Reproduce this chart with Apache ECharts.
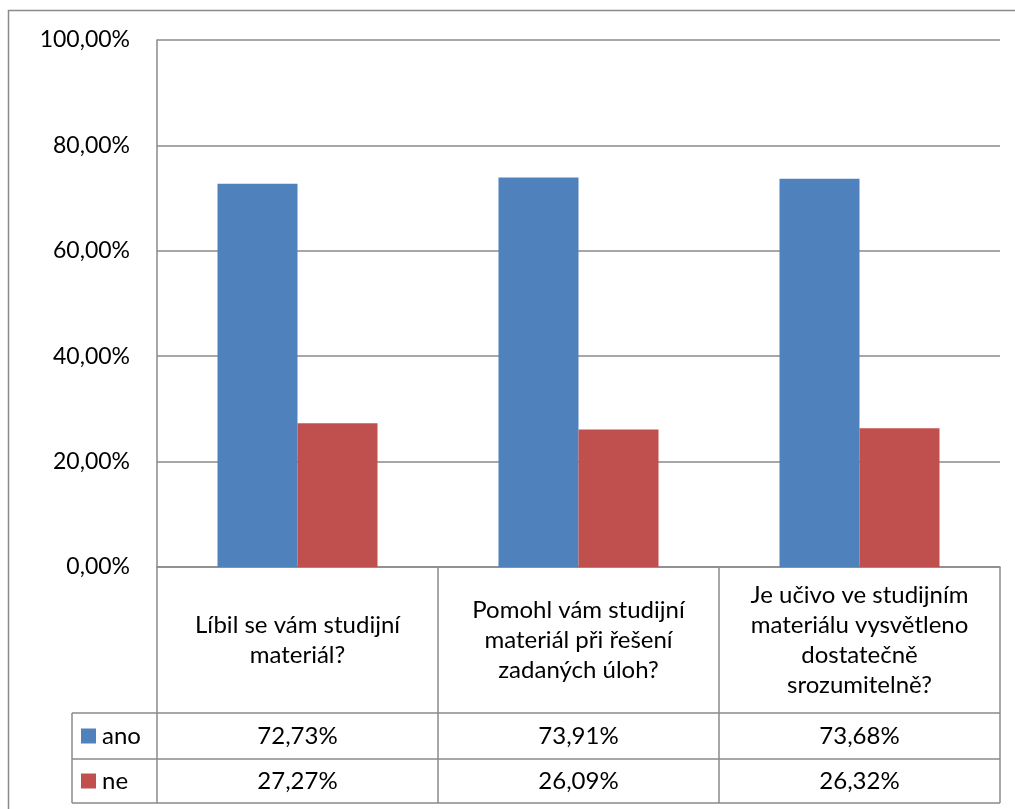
<!DOCTYPE html>
<html>
<head>
<meta charset="utf-8">
<script src="https://cdn.jsdelivr.net/npm/echarts@6/dist/echarts.min.js"></script>
<style>
  html, body { margin: 0; padding: 0; background: #fff; }
  #chart { width: 1015px; height: 809px; }
</style>
</head>
<body>
<div id="chart"></div>
<script>
// data
const categories = [
  'Líbil se vám studijní\nmateriál?',
  'Pomohl vám studijní\nmateriál při řešení\nzadaných úloh?',
  'Je učivo ve studijním\nmateriálu vysvětleno\ndostatečně\nsrozumitelně?'
]
const seriesNames = ['ano', 'ne']
const anoValues = [72.73, 73.91, 73.68]
const neValues = [27.27, 26.09, 26.32]
const yTicks = [0, 20, 40, 60, 80, 100]

const colors = ['#4f81bd', '#c0504d']
const lineColor = '#8a8a8a'
const fontFamily = 'Lato, "Open Sans", sans-serif'
const fontSize = 24

// layout of plot area + data table
const gridLeft = 157, gridRight = 1000, gridTop = 40, gridBottom = 567
const catRowBottom = 713, anoRowBottom = 759, tableBottom = 803, legendLeft = 72

const fmt = (v) => v.toFixed(2).replace('.', ',') + '%'

const chart = echarts.init(document.getElementById('chart'))

const option = {
  animation: false,
  textStyle: { fontFamily },
  grid: {
    left: gridLeft,
    right: 1015 - gridRight,
    top: gridTop,
    bottom: 809 - gridBottom
  },
  xAxis: {
    type: 'category',
    data: categories,
    axisLine: { show: true, lineStyle: { color: lineColor, width: 1.5 } },
    // category boundaries go down through the data table
    axisTick: { show: true, length: tableBottom - gridBottom, lineStyle: { color: lineColor, width: 1.5 } },
    axisLabel: {
      interval: 0,
      margin: (catRowBottom - gridBottom) / 2,
      verticalAlign: 'middle',
      align: 'center',
      color: '#000',
      fontSize: fontSize,
      lineHeight: 30,
      fontFamily
    }
  },
  yAxis: {
    type: 'value',
    min: yTicks[0],
    max: yTicks[yTicks.length - 1],
    interval: 20,
    axisLine: { show: true, lineStyle: { color: lineColor, width: 1.5 } },
    axisTick: { show: false },
    splitLine: { lineStyle: { color: lineColor, width: 1.5 } },
    axisLabel: {
      formatter: fmt,
      margin: 27,
      color: '#000',
      fontSize: 23,
      fontFamily
    }
  },
  series: [
    {
      name: seriesNames[0],
      type: 'bar',
      data: anoValues,
      barWidth: 80,
      barGap: '0%',
      itemStyle: { color: colors[0] }
    },
    {
      name: seriesNames[1],
      type: 'bar',
      data: neValues,
      barWidth: 80,
      itemStyle: { color: colors[1] }
    }
  ]
}

chart.setOption(option)

// data table below the axis, built from the same arrays
const hLine = (y, x1, x2) => ({
  type: 'line',
  shape: { x1, y1: y, x2, y2: y },
  style: { stroke: lineColor, lineWidth: 1.5 }
})
const vLine = (x, y1, y2) => ({
  type: 'line',
  shape: { x1: x, y1, x2: x, y2 },
  style: { stroke: lineColor, lineWidth: 1.5 }
})

const graphics = [
  // outer frame
  {
    type: 'rect',
    shape: { x: 8.5, y: 10.5, width: 1020, height: 820 },
    style: { fill: null, stroke: lineColor, lineWidth: 1.5 }
  },
  hLine(catRowBottom, legendLeft, gridRight),
  hLine(anoRowBottom, legendLeft, gridRight),
  hLine(tableBottom, legendLeft, gridRight),
  vLine(legendLeft, catRowBottom, tableBottom)
]

const rowCenters = [(catRowBottom + anoRowBottom) / 2, (anoRowBottom + tableBottom) / 2]
const rowValues = [anoValues, neValues]
const font = fontSize + 'px ' + fontFamily

rowValues.forEach((vals, r) => {
  const cy = rowCenters[r]
  // legend key + series name
  graphics.push({
    type: 'rect',
    shape: { x: 81, y: cy - 7.5, width: 15, height: 15 },
    style: { fill: colors[r] }
  })
  graphics.push({
    type: 'text',
    x: 102,
    y: cy,
    style: { text: seriesNames[r], font, fill: '#000', verticalAlign: 'middle', align: 'left' }
  })
  vals.forEach((v, i) => {
    const cx = chart.convertToPixel({ xAxisIndex: 0 }, i)
    graphics.push({
      type: 'text',
      x: cx,
      y: cy,
      style: { text: fmt(v), font, fill: '#000', verticalAlign: 'middle', align: 'center' }
    })
  })
})

chart.setOption({ graphic: graphics })
</script>
</body>
</html>
